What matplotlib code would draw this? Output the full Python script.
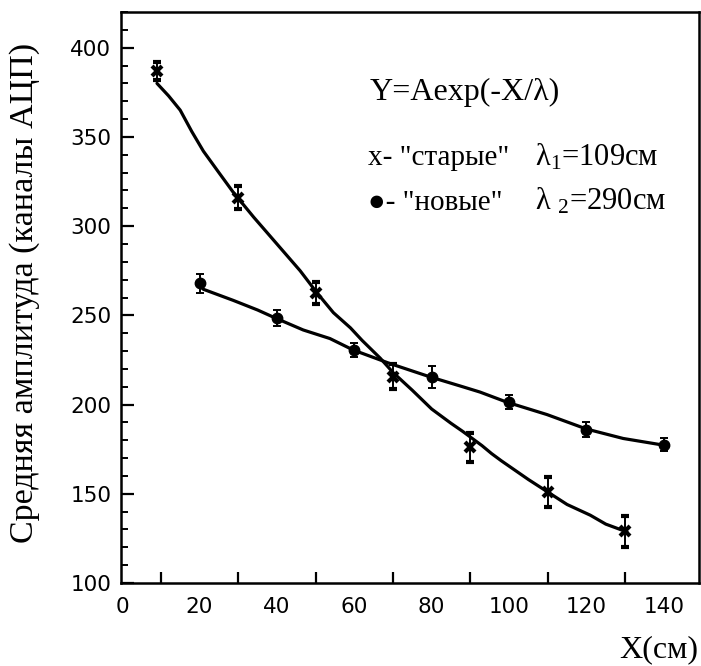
import matplotlib
matplotlib.use("Agg")
import matplotlib.pyplot as plt
from matplotlib.ticker import MultipleLocator, FixedLocator

# ── data ─────────────────────────────────────────────────────
old_x = [9, 30, 50, 70, 90, 110, 130]
old_y = [387, 316, 262.5, 215.5, 176, 151, 129]
old_err = [5, 6.5, 6, 7, 8, 8.4, 8.7]

new_x = [20, 40, 60, 80, 100, 120, 140]
new_y = [268, 248.5, 230.5, 215.5, 201.5, 186, 177.5]
new_err = [5.3, 4.5, 4, 6, 4, 4, 3.5]

# hand-drawn fit curves (traced)
old_fit_x = [9, 12, 15, 18, 21, 25, 28.7, 34, 40, 46, 50.4, 54.6, 59, 62, 66.7, 70, 75,
             80, 85, 88, 90.5, 93, 95.5, 98, 100, 105, 110, 115, 121, 125, 130.5]
old_fit_y = [380, 373, 365, 353, 342, 330, 319, 305, 290, 275, 262.5, 251.5, 243, 236,
             226, 218, 208, 197.5, 189.5, 185, 181, 177, 172.5, 168.5, 165.5, 158, 151,
             144, 138, 133, 128.6]

new_fit_x = [19.4, 21, 28.7, 35, 39.5, 46.8, 53.7, 59.7, 69.2, 79.6, 88, 92.5,
             99.5, 109.8, 120, 129.5, 139.8]
new_fit_y = [268, 264.6, 258.4, 253, 248.6, 241.8, 237, 230.6, 223, 215.5, 210, 207,
             201.3, 194.4, 186.3, 181, 177.3]

y_ticks = [100, 150, 200, 250, 300, 350, 400]
x_labels = [0, 20, 40, 60, 80, 100, 120, 140]
x_marks = [10, 30, 50, 70, 90, 110, 130]

plt.rcParams["mathtext.fontset"] = "custom"
plt.rcParams["mathtext.rm"] = "Liberation Serif"
plt.rcParams["mathtext.it"] = "Liberation Serif"

W, H = 701, 666
fig = plt.figure(figsize=(W / 100, H / 100), dpi=100)
ax = fig.add_axes([121 / W, 1 - 583 / H, (699 - 121) / W, (583 - 12) / H])

ax.plot(old_fit_x, old_fit_y, color="black", linewidth=2.3, solid_capstyle="round",
        solid_joinstyle="round")
ax.plot(new_fit_x, new_fit_y, color="black", linewidth=2.3, solid_capstyle="round",
        solid_joinstyle="round")

ax.errorbar(old_x, old_y, yerr=old_err, fmt="x", color="black", ms=7, mew=3,
            elinewidth=1.4, capsize=3, capthick=1.4)
ax.errorbar(new_x, new_y, yerr=new_err, fmt="o", color="black", ms=7.5,
            elinewidth=1.4, capsize=3, capthick=1.4)

ax.set_xlim(-0.3, 149.1)
ax.set_ylim(100, 420)

ax.yaxis.set_major_locator(FixedLocator(y_ticks))
ax.yaxis.set_minor_locator(MultipleLocator(10))
ax.xaxis.set_major_locator(FixedLocator(x_labels))
ax.xaxis.set_minor_locator(FixedLocator(x_marks))

ax.tick_params(axis="y", which="major", direction="in", length=9, width=1.6,
               labelsize=15.5, pad=7)
ax.tick_params(axis="y", which="minor", direction="in", length=5, width=1.4)
ax.tick_params(axis="x", which="major", direction="in", length=0,
               labelsize=15.5, pad=10)
ax.tick_params(axis="x", which="minor", direction="in", length=8, width=1.6)
for lab in ax.get_xticklabels() + ax.get_yticklabels():
    lab.set_family("DejaVu Sans")

for s in ax.spines.values():
    s.set_linewidth(1.8)

serif = ["Liberation Serif", "DejaVu Serif", "DejaVu Sans"]

fig.text(25 / W, 1 - 293 / H, "Средняя амплитуда (каналы АЦП)", rotation=90,
         ha="center", va="center", fontsize=24.5, family=serif)
fig.text(698 / W, 1 - 657 / H, "X(см)", ha="right", va="baseline",
         fontsize=23, family=serif)

fig.text(370 / W, 1 - 100 / H, "Y=Aexp(-X/λ)", ha="left", va="baseline",
         fontsize=23, family=serif)
fig.text(368 / W, 1 - 165 / H, 'x- "старые"', ha="left", va="baseline",
         fontsize=21, family=serif)
fig.text(535 / W, 1 - 165 / H, "λ$_1$=109см", ha="left", va="baseline",
         fontsize=22, family=serif)
fig.text(368 / W, 1 - 210 / H, '●- "новые"', ha="left", va="baseline",
         fontsize=21, family=serif)
fig.text(535 / W, 1 - 210 / H, "λ $_2$=290см", ha="left", va="baseline",
         fontsize=22, family=serif)

fig.savefig("out.png", dpi=100)
